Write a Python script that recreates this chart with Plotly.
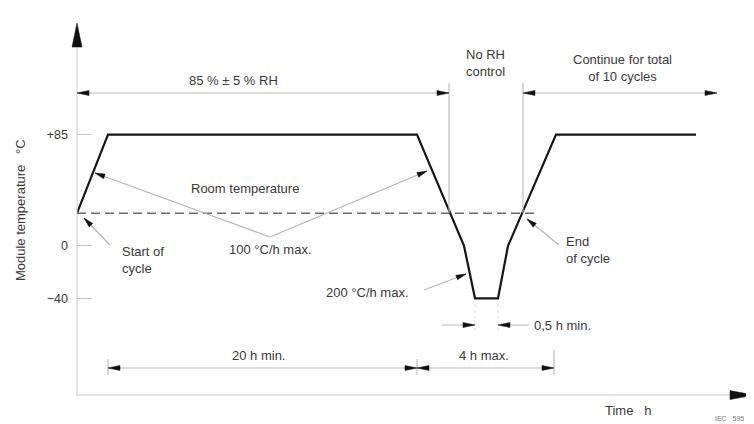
import math
import plotly.graph_objects as go

# ---------------- data (schematic time units, module temperature in °C) ----------------
time_units = [0, 31, 340, 387, 398, 421, 431, 479, 619]
module_temp_c = [25, 85, 85, 0, -40, -40, 0, 85, 85]
room_temp_c = 25
room_temp_span = [0, 460]
y_tick_vals = [85, 0, -40]
y_tick_text = ["+85", "0", "\u221240"]

# ---------------- geometry helpers ----------------
# page body has an 8 px margin, the figure is sized so the plot area sits at page px 77..754 / 8..396
FIG_W, FIG_H = 746, 416
MARGIN = dict(l=69, r=0, t=0, b=28)
PLOT_W = FIG_W - MARGIN["l"] - MARGIN["r"]
PLOT_H = FIG_H - MARGIN["t"] - MARGIN["b"]
X_RANGE = [0, 677]
Y_RANGE = [-114.6, 181.7]
SX = (X_RANGE[1] - X_RANGE[0]) / PLOT_W   # data units per pixel (x)
SY = (Y_RANGE[1] - Y_RANGE[0]) / PLOT_H   # data units per pixel (y)

GREY = "#b8b8b8"
TXT = "#3a3a3a"
FONT = "Liberation Sans, Arial, sans-serif"

shapes = []
annotations = []


def fx(x):
    return (x - X_RANGE[0]) / (X_RANGE[1] - X_RANGE[0])


def fy(y):
    return (y - Y_RANGE[0]) / (Y_RANGE[1] - Y_RANGE[0])


def seg(p, q, color=GREY, width=1.1, dash=None):
    line = dict(color=color, width=width)
    if dash:
        line["dash"] = dash
    shapes.append(dict(type="line", xref="x domain", yref="y domain",
                       x0=fx(p[0]), y0=fy(p[1]), x1=fx(q[0]), y1=fy(q[1]),
                       line=line, layer="above"))


def head(tail, tip, L=12, W=5):
    dxp = (tip[0] - tail[0]) / SX
    dyp = -(tip[1] - tail[1]) / SY
    n = math.hypot(dxp, dyp)
    ux, uy = dxp / n, dyp / n
    bx, by = -ux * L, -uy * L
    p1 = (bx - uy * W / 2, by + ux * W / 2)
    p2 = (bx + uy * W / 2, by - ux * W / 2)

    def d(p):
        return (fx(tip[0] + p[0] * SX), fy(tip[1] - p[1] * SY))

    a, b = d(p1), d(p2)
    t = (fx(tip[0]), fy(tip[1]))
    path = f"M {t[0]:.5f},{t[1]:.5f} L {a[0]:.5f},{a[1]:.5f} L {b[0]:.5f},{b[1]:.5f} Z"
    shapes.append(dict(type="path", xref="x domain", yref="y domain", path=path,
                       fillcolor="#111", line=dict(color="#111", width=0.5),
                       layer="above"))


def text(x, y, s, size=13, xanchor="center", align="center", color=TXT, angle=0):
    annotations.append(dict(x=fx(x), y=fy(y), xref="x domain", yref="y domain",
                            text=s, showarrow=False,
                            xanchor=xanchor, yanchor="middle", align=align,
                            textangle=angle,
                            font=dict(family=FONT, size=size, color=color)))


# ---------------- axes with arrowheads ----------------
seg((0, Y_RANGE[0]), (0, 151.9), color="#c8c8c8", width=1)
head((0, 100), (0, 170.2), L=24, W=10)
seg((0, -113.9), (655, -113.9), color="#c8c8c8", width=1)
head((600, -113.9), (677, -113.9), L=24, W=9)

# ---------------- RH phase dimension (top) ----------------
seg((372, room_temp_c), (372, 124.4))
seg((446, room_temp_c), (446, 124.4))
seg((0, 116.8), (372, 116.8))
seg((446, 116.8), (640, 116.8))
head((100, 116.8), (0, 116.8))
head((300, 116.8), (372, 116.8))
head((500, 116.8), (446, 116.8))
head((600, 116.8), (640, 116.8))

# ---------------- duration dimensions (bottom) ----------------
seg((31, -93.2), (477, -93.2))
seg((31, -86.3), (31, -98.6))
seg((340, -86.3), (340, -98.6))
seg((477, -79.5), (477, -98.6))
head((100, -93.2), (31, -93.2))
head((200, -93.2), (340, -93.2))
head((400, -93.2), (340, -93.2))
head((400, -93.2), (477, -93.2))

# 0,5 h min. dwell at -40 °C
seg((365, -60.4), (398, -60.4))
seg((421, -60.4), (452, -60.4))
seg((398, -44.4), (398, -65.7), color="#d8d8d8", width=1, dash="dot")
seg((421, -44.4), (421, -65.7), color="#d8d8d8", width=1, dash="dot")
head((365, -60.4), (398, -60.4))
head((452, -60.4), (421, -60.4))

# ---------------- pointer leaders ----------------
apex = (193, 6.8)
for tail, tip in [(apex, (18, 55.7)), (apex, (350, 57.2)),
                  ((33, 0.7), (7, 21.3)), ((347, -33.7), (389, -21.4)),
                  ((482, 0.7), (450, 20.6))]:
    seg(tail, tip, color="#b4b4b4", width=1.2)
    head(tail, tip, L=10, W=5)

# ---------------- texts ----------------
text(156, 126.7, "85 % \u00b1 5 % RH")
text(408, 139.7, "No RH<br>control")
text(545, 135.9, "Continue for total<br>of 10 cycles")
text(168, 44.2, "Room temperature")
text(193, -3.1, "100 \u00b0C/h max.")
text(43, -10.8, "Start of<br>cycle", xanchor="left", align="left")
text(290, -35.2, "200 \u00b0C/h max.")
text(487, -3.1, "End<br>of cycle", xanchor="left", align="left")
text(455, -60.4, "0,5 h min.", xanchor="left", align="left")
text(181, -83.3, "20 h min.")
text(407, -83.3, "4 h max.")
text(551, -125.3, "Time   h")
text(636, -131.5, "IEC   595", size=7, xanchor="left", align="left", color="#777")
text(-57, 27.4, "Module temperature   \u00b0C", angle=-90)

# ---------------- traces ----------------
fig = go.Figure()
fig.add_trace(go.Scatter(x=room_temp_span, y=[room_temp_c, room_temp_c], mode="lines",
                         line=dict(color="#6a6a6a", width=1.6, dash="9px,5px"),
                         hoverinfo="skip", showlegend=False))
fig.add_trace(go.Scatter(x=time_units, y=module_temp_c, mode="lines",
                         line=dict(color="#161616", width=2.2),
                         showlegend=False))

fig.update_layout(
    width=FIG_W, height=FIG_H,
    margin=MARGIN,
    paper_bgcolor="white", plot_bgcolor="white",
    shapes=shapes, annotations=annotations,
    font=dict(family=FONT, size=13, color=TXT),
    xaxis=dict(range=X_RANGE, showgrid=False, zeroline=False, showline=False,
               showticklabels=False, ticks="", fixedrange=True),
    yaxis=dict(range=Y_RANGE, showgrid=False, zeroline=False, showline=False,
               tickvals=y_tick_vals, ticktext=y_tick_text, ticks="inside",
               ticklen=15, tickcolor="#c8c8c8", tickwidth=1,
               ticklabelstandoff=8,
               tickfont=dict(family=FONT, size=12.5, color=TXT), fixedrange=True),
)

fig.write_html("out.html")
